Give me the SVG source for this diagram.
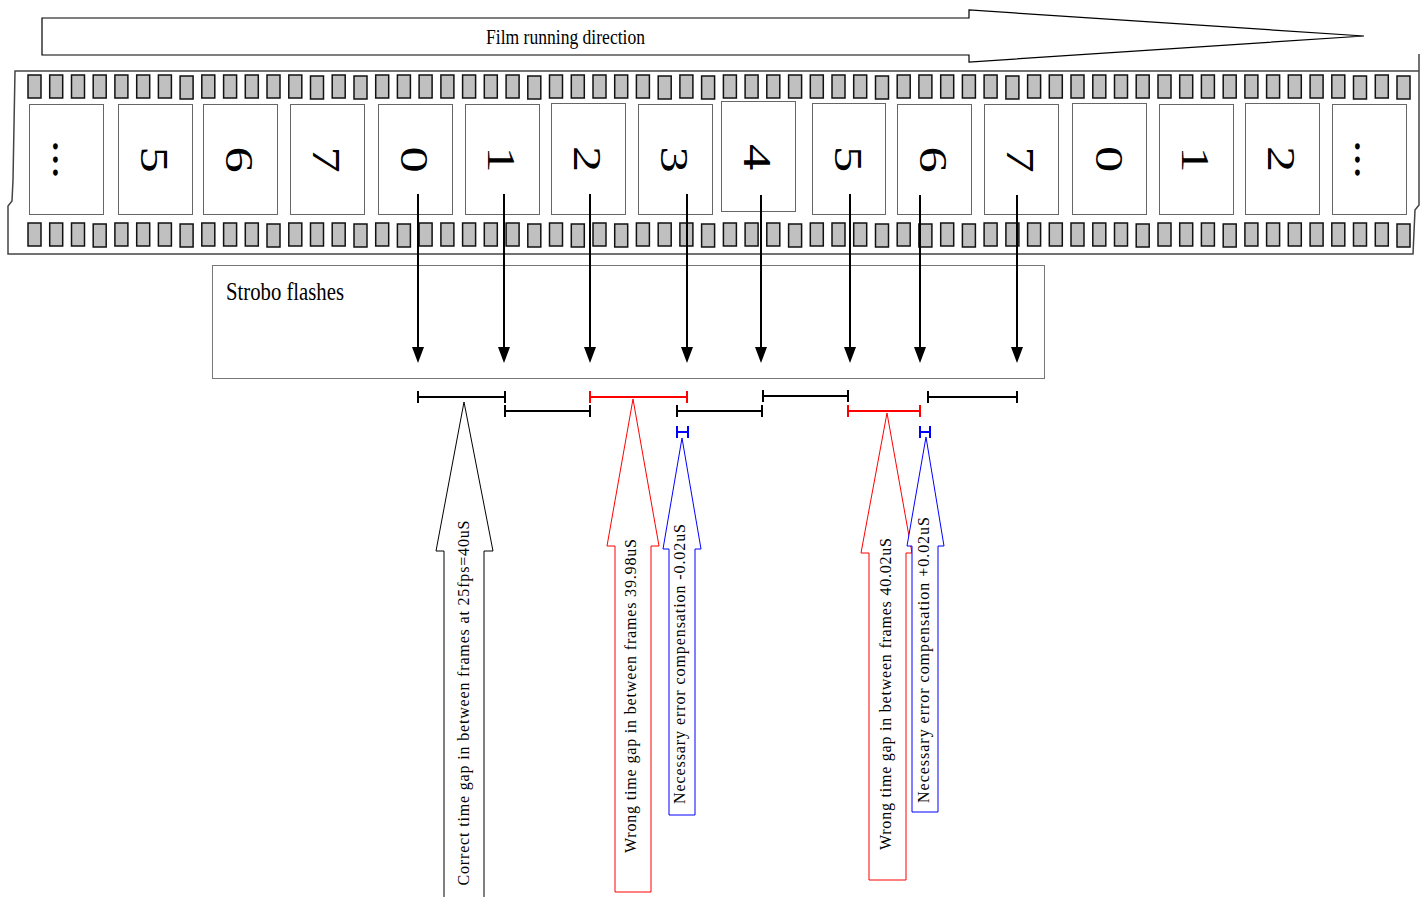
<svg xmlns="http://www.w3.org/2000/svg" width="1424" height="897" viewBox="0 0 1424 897">
  <style>
    .serif { font-family: "Liberation Serif", "Times New Roman", serif; fill: #000; }
    .frame { fill: #fff; stroke: #666; stroke-width: 1; }
    .digit { font-size: 41px; }
    .holes { fill: #c0c0c0; stroke: #111; stroke-width: 1.5; }
    .edge { fill: #fff; stroke: #444; stroke-width: 1.5; }
    .flash { stroke: #000; stroke-width: 2; fill: none; }
    .bar { stroke-width: 2; fill: none; }
    .blk { stroke: #000; }
    .red { stroke: #ff0000; }
    .blue { stroke: #0000ff; }
    .block { fill: #fff; stroke-width: 1; }
    .label { font-size: 16px; }
  </style>
  <defs>
    <marker id="head" viewBox="0 0 16 12" markerWidth="16" markerHeight="12" refX="3" refY="6" orient="auto" markerUnits="userSpaceOnUse">
      <path d="M0,0 L16,6 L0,12 z" fill="#000"/>
    </marker>
  </defs>

  <rect width="1424" height="897" fill="#fff"/>

  <!-- direction arrow above the strip -->
  <g id="direction">
    <polygon points="42,18 969,18 969,10 1364,36 969,62 969,55 42,55" fill="#fff" stroke="#000" stroke-width="1.2"/>
    <text class="serif" x="486" y="44" font-size="21" textLength="159" lengthAdjust="spacingAndGlyphs">Film running direction</text>
  </g>

  <!-- film strip -->
  <g id="film">
    <path class="edge" d="M15,71 L1419,71 L1419,54 L1419,205 L1415,210 L1413,254 L8,254 L8,206 L12,201 L13,180 Z"/>
    <path class="holes" d="M28,75h13v23h-13z M49.7,75h13v23h-13z M71.5,75h13v23h-13z M93.2,75h13v23h-13z M114.9,75h13v23h-13z M136.7,75h13v23h-13z M158.4,75h13v23h-13z M180.1,76h13v23h-13z M201.8,75h13v23h-13z M223.6,75h13v23h-13z M245.3,75h13v23h-13z M267,75h13v23h-13z M288.8,75h13v23h-13z M310.5,76h13v23h-13z M332.2,75h13v23h-13z M354,76h13v23h-13z M375.7,75h13v23h-13z M397.4,75h13v23h-13z M419.1,75h13v23h-13z M440.9,75h13v23h-13z M462.6,75h13v23h-13z M484.3,75h13v23h-13z M506.1,75h13v23h-13z M527.8,76h13v23h-13z M549.5,75h13v23h-13z M571.3,75h13v23h-13z M593,75h13v23h-13z M614.7,75h13v23h-13z M636.4,75h13v23h-13z M658.2,76h13v23h-13z M679.9,75h13v23h-13z M701.6,76h13v23h-13z M723.4,75h13v23h-13z M745.1,75h13v23h-13z M766.8,75h13v23h-13z M788.6,75h13v23h-13z M810.3,75h13v23h-13z M832,75h13v23h-13z M853.7,75h13v23h-13z M875.5,76h13v23h-13z M897.2,75h13v23h-13z M918.9,75h13v23h-13z M940.7,75h13v23h-13z M962.4,75h13v23h-13z M984.1,75h13v23h-13z M1005.9,76h13v23h-13z M1027.6,75h13v23h-13z M1049.3,75h13v23h-13z M1071,75h13v23h-13z M1092.8,75h13v23h-13z M1114.5,75h13v23h-13z M1136.2,75h13v23h-13z M1158,75h13v23h-13z M1179.7,75h13v23h-13z M1201.4,75h13v23h-13z M1223.2,75h13v23h-13z M1244.9,75h13v23h-13z M1266.6,75h13v23h-13z M1288.3,75h13v23h-13z M1310.1,75h13v23h-13z M1331.8,75h13v23h-13z M1353.5,76h13v23h-13z M1375.3,75h13v23h-13z M1397,76h13v23h-13z"/>
    <path class="holes" d="M28,223h13v23h-13z M49.7,223h13v23h-13z M71.5,223h13v23h-13z M93.2,224h13v23h-13z M114.9,223h13v23h-13z M136.7,223h13v23h-13z M158.4,223h13v23h-13z M180.1,224h13v23h-13z M201.8,223h13v23h-13z M223.6,223h13v23h-13z M245.3,223h13v23h-13z M267,224h13v23h-13z M288.8,223h13v23h-13z M310.5,223h13v23h-13z M332.2,223h13v23h-13z M354,224h13v23h-13z M375.7,223h13v23h-13z M397.4,224h13v23h-13z M419.1,223h13v23h-13z M440.9,223h13v23h-13z M462.6,223h13v23h-13z M484.3,223h13v23h-13z M506.1,223h13v23h-13z M527.8,224h13v23h-13z M549.5,223h13v23h-13z M571.3,224h13v23h-13z M593,223h13v23h-13z M614.7,224h13v23h-13z M636.4,223h13v23h-13z M658.2,223h13v23h-13z M679.9,223h13v23h-13z M701.6,224h13v23h-13z M723.4,223h13v23h-13z M745.1,223h13v23h-13z M766.8,223h13v23h-13z M788.6,224h13v23h-13z M810.3,223h13v23h-13z M832,223h13v23h-13z M853.7,223h13v23h-13z M875.5,224h13v23h-13z M897.2,223h13v23h-13z M918.9,224h13v23h-13z M940.7,223h13v23h-13z M962.4,224h13v23h-13z M984.1,223h13v23h-13z M1005.9,223h13v23h-13z M1027.6,223h13v23h-13z M1049.3,223h13v23h-13z M1071,223h13v23h-13z M1092.8,223h13v23h-13z M1114.5,223h13v23h-13z M1136.2,224h13v23h-13z M1158,223h13v23h-13z M1179.7,223h13v23h-13z M1201.4,223h13v23h-13z M1223.2,224h13v23h-13z M1244.9,223h13v23h-13z M1266.6,223h13v23h-13z M1288.3,223h13v23h-13z M1310.1,223h13v23h-13z M1331.8,223h13v23h-13z M1353.5,223h13v23h-13z M1375.3,223h13v23h-13z M1397,224h13v23h-13z"/>
  </g>

  <!-- frames, numbers printed sideways -->
  <g id="frame-dots-left"><rect class="frame" x="29.5" y="104.5" width="74" height="110"/>
    <text class="serif digit" text-anchor="middle" y="14" transform="translate(67,159.5) rotate(90) scale(1.28,1)">...</text></g>
  <g id="frame-5a"><rect class="frame" x="118.5" y="104.5" width="74" height="110"/>
    <text class="serif digit" text-anchor="middle" y="14" transform="translate(155,159.5) rotate(90) scale(1.28,1)">5</text></g>
  <g id="frame-6a"><rect class="frame" x="203.5" y="104.5" width="74" height="110"/>
    <text class="serif digit" text-anchor="middle" y="14" transform="translate(240,159.5) rotate(90) scale(1.28,1)">6</text></g>
  <g id="frame-7a"><rect class="frame" x="290.5" y="104.5" width="74" height="110"/>
    <text class="serif digit" text-anchor="middle" y="14" transform="translate(327,159.5) rotate(90) scale(1.28,1)">7</text></g>
  <g id="frame-0a"><rect class="frame" x="378.5" y="104.5" width="74" height="110"/>
    <text class="serif digit" text-anchor="middle" y="14" transform="translate(415,159.5) rotate(90) scale(1.28,1)">0</text></g>
  <g id="frame-1a"><rect class="frame" x="465.5" y="104.5" width="74" height="110"/>
    <text class="serif digit" text-anchor="middle" y="14" transform="translate(502.5,159.5) rotate(90) scale(1.28,1)">1</text></g>
  <g id="frame-2a"><rect class="frame" x="551.5" y="103.5" width="74" height="111"/>
    <text class="serif digit" text-anchor="middle" y="14" transform="translate(588,159) rotate(90) scale(1.28,1)">2</text></g>
  <g id="frame-3"><rect class="frame" x="638.5" y="104.5" width="74" height="110"/>
    <text class="serif digit" text-anchor="middle" y="14" transform="translate(675,159.5) rotate(90) scale(1.28,1)">3</text></g>
  <g id="frame-4"><rect class="frame" x="721.5" y="101.5" width="74" height="110"/>
    <text class="serif digit" text-anchor="middle" y="14" transform="translate(758,157) rotate(90) scale(1.28,1)">4</text></g>
  <g id="frame-5b"><rect class="frame" x="812.5" y="103.5" width="73" height="111"/>
    <text class="serif digit" text-anchor="middle" y="14" transform="translate(849,159) rotate(90) scale(1.28,1)">5</text></g>
  <g id="frame-6b"><rect class="frame" x="897.5" y="104.5" width="74" height="110"/>
    <text class="serif digit" text-anchor="middle" y="14" transform="translate(934,159.5) rotate(90) scale(1.28,1)">6</text></g>
  <g id="frame-7b"><rect class="frame" x="984.5" y="104.5" width="74" height="110"/>
    <text class="serif digit" text-anchor="middle" y="14" transform="translate(1021,159.5) rotate(90) scale(1.28,1)">7</text></g>
  <g id="frame-0b"><rect class="frame" x="1072.5" y="103.5" width="74" height="111"/>
    <text class="serif digit" text-anchor="middle" y="14" transform="translate(1110,159) rotate(90) scale(1.28,1)">0</text></g>
  <g id="frame-1b"><rect class="frame" x="1159.5" y="104.5" width="74" height="110"/>
    <text class="serif digit" text-anchor="middle" y="14" transform="translate(1196.5,159.5) rotate(90) scale(1.28,1)">1</text></g>
  <g id="frame-2b"><rect class="frame" x="1245.5" y="103.5" width="74" height="111"/>
    <text class="serif digit" text-anchor="middle" y="14" transform="translate(1282,159) rotate(90) scale(1.28,1)">2</text></g>
  <g id="frame-dots-right"><rect class="frame" x="1332.5" y="104.5" width="74" height="110"/>
    <text class="serif digit" text-anchor="middle" y="14" transform="translate(1369,159.5) rotate(90) scale(1.28,1)">...</text></g>

  <!-- strobe box -->
  <g id="strobo">
    <rect x="212.5" y="265.5" width="832" height="113" fill="none" stroke="#777" stroke-width="1"/>
    <text class="serif" x="226" y="300" font-size="25" textLength="118" lengthAdjust="spacingAndGlyphs">Strobo flashes</text>
  </g>

  <!-- flash arrows from frame centres -->
  <g id="connectors" class="flash" marker-end="url(#head)">
    <line x1="418" y1="194" x2="418" y2="350" marker-end="url(#head)"/>
    <line x1="504" y1="194" x2="504" y2="350" marker-end="url(#head)"/>
    <line x1="590" y1="194" x2="590" y2="350" marker-end="url(#head)"/>
    <line x1="687" y1="194" x2="687" y2="350" marker-end="url(#head)"/>
    <line x1="761" y1="195" x2="761" y2="350" marker-end="url(#head)"/>
    <line x1="850" y1="194" x2="850" y2="350" marker-end="url(#head)"/>
    <line x1="920" y1="195" x2="920" y2="350" marker-end="url(#head)"/>
    <line x1="1017" y1="195" x2="1017" y2="350" marker-end="url(#head)"/>
  </g>

  <!-- interval bars -->
  <g id="intervals">
    <path class="bar blk" d="M418,397H505 M418,391V403 M505,391V403"/>
    <path class="bar blk" d="M505,411H590 M505,405V417 M590,405V417"/>
    <path class="bar red" d="M590,397H687 M590,391V403 M687,391V403"/>
    <path class="bar blk" d="M677,411H762 M677,405V417 M762,405V417"/>
    <path class="bar blk" d="M763,396H848 M763,390V402 M848,390V402"/>
    <path class="bar red" d="M848,411H920 M848,405V417 M920,405V417"/>
    <path class="bar blk" d="M928,397H1017 M928,391V403 M1017,391V403"/>
    <path class="bar blue" d="M677,432H688 M677,426V438 M688,426V438"/>
    <path class="bar blue" d="M920,432H930 M920,426V438 M930,426V438"/>
  </g>

  <!-- callouts -->
  <g id="callout-correct">
    <polygon class="block" stroke="#000" points="444,900 444,551 436,551 464,402 493,551 484,551 484,900"/>
    <text class="serif label" text-anchor="middle" transform="translate(469,703) rotate(-90)" textLength="365" lengthAdjust="spacing">Correct time gap in between frames at 25fps=40uS</text>
  </g>
  <g id="callout-short">
    <polygon class="block" stroke="#ff0000" points="615,892 615,546 607,546 633,399 659,546 651,546 651,892"/>
    <text class="serif label" text-anchor="middle" transform="translate(636,696) rotate(-90)" textLength="314" lengthAdjust="spacing">Wrong time gap in between frames 39.98uS</text>
  </g>
  <g id="callout-minus">
    <polygon class="block" stroke="#0000ff" points="669,815 669,549 663,549 682,438 701,549 695,549 695,815"/>
    <text class="serif label" text-anchor="middle" transform="translate(685,664) rotate(-90)" textLength="280" lengthAdjust="spacing">Necessary error compensation -0.02uS</text>
  </g>
  <g id="callout-long">
    <polygon class="block" stroke="#ff0000" points="869,880 869,553 861,553 887,413 912,553 906,553 906,880"/>
    <text class="serif label" text-anchor="middle" transform="translate(891,694) rotate(-90)" textLength="312" lengthAdjust="spacing">Wrong time gap in between frames 40.02uS</text>
  </g>
  <g id="callout-plus">
    <polygon class="block" stroke="#0000ff" points="912,812 912,546 907,546 926,437 944,546 938,546 938,812"/>
    <text class="serif label" text-anchor="middle" transform="translate(929,660) rotate(-90)" textLength="286" lengthAdjust="spacing">Necessary error compensation +0.02uS</text>
  </g>
</svg>
